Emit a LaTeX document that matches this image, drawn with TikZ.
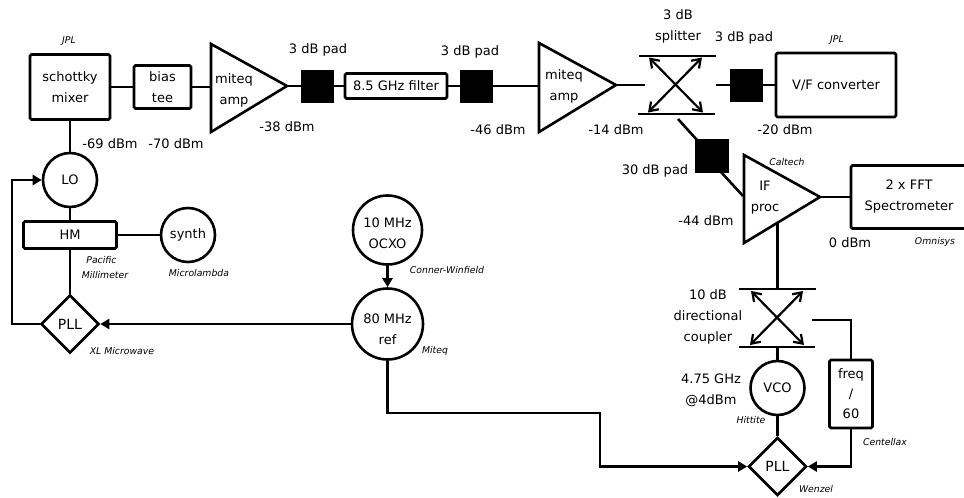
\documentclass[tikz,border=0pt]{standalone}
\usepackage{fontspec}
\setmainfont{DejaVu Sans}
\usepackage{tikz}
\usetikzlibrary{arrows.meta, shapes.geometric, positioning}

\begin{document}
\begin{tikzpicture}[
  x=1pt, y=-1pt,
  wire/.style={line width=2.6pt},
  arr/.style={wire, -{Triangle[length=9pt,width=10pt]}},
  dbl/.style={line width=2.2pt, {Straight Barb[length=8pt,width=11pt]}-{Straight Barb[length=8pt,width=11pt]}},
  box/.style={draw, line width=2.6pt, rounded corners=1.5pt, font=\fontsize{13}{16}\selectfont, align=center, inner sep=0pt},
  pad/.style={draw, fill=black, minimum size=32pt, inner sep=0pt},
  amp/.style={draw, line width=2.6pt, line join=miter},
  circ/.style={draw, circle, line width=2.6pt, inner sep=0pt, font=\fontsize{13}{19}\selectfont, align=center},
  pll/.style={draw, diamond, line width=2.6pt, inner sep=0pt, minimum size=58pt, font=\fontsize{14}{16}\selectfont},
  lab/.style={font=\fontsize{13}{21}\selectfont, align=center, inner sep=0pt},
  maker/.style={font=\itshape\fontsize{9.3}{15}\selectfont, align=center, inner sep=0pt}
]
  \useasboundingbox (0,0) rectangle (964,498);

  % front end
  \node[box, minimum width=80pt, minimum height=65pt] (mixer) at (70,87) {schottky\\[5pt]mixer};
  \node[box, minimum width=57pt, minimum height=43pt] (tee) at (162.5,87) {bias\\[5pt]tee};
  \coordinate (ampa1) at (211,44);
  \coordinate (ampa2) at (211,132);
  \coordinate (ampa3) at (287,86);
  \draw[amp] (ampa1) -- (ampa3) -- (ampa2) -- cycle;
  \node[lab] (ampatxt) at (234,90) {miteq\\amp};
  \node[pad] (pada) at (317,86) {};
  \node[box, minimum width=102pt, minimum height=25pt] (filter) at (396,86) {8.5 GHz filter};
  \node[pad] (padb) at (476,86) {};
  \coordinate (ampb1) at (539,43);
  \coordinate (ampb2) at (539,132);
  \coordinate (ampb3) at (616,85);
  \draw[amp] (ampb1) -- (ampb3) -- (ampb2) -- cycle;
  \node[lab] (ampbtxt) at (564,86) {miteq\\amp};

  % splitter
  \coordinate (spa) at (639,56);
  \coordinate (spb) at (716,56);
  \coordinate (spc) at (638,114);
  \coordinate (spd) at (715,114);
  \draw[wire] (spa) -- (spb);
  \draw[wire] (spc) -- (spd);
  \coordinate (spin) at (645,85);
  \coordinate (spout) at (716,85);
  \coordinate (spdown) at (678,119);
  \draw[dbl] (649,57.5) -- (703,112.5);
  \draw[dbl] (702,57.5) -- (648,112.5);

  \node[pad] (padc) at (746,85) {};
  \node[box, minimum width=120pt, minimum height=64pt] (vf) at (836,85) {V/F converter};
  \node[pad, minimum size=33pt] (padd) at (712,156) {};
  \coordinate (ifa) at (744,155);
  \coordinate (ifb) at (744,243);
  \coordinate (ifc) at (820,197);
  \draw[amp] (ifa) -- (ifc) -- (ifb) -- cycle;
  \node[lab] (iftxt) at (765,198) {IF\\proc};
  \node[box, minimum width=116pt, minimum height=63pt] (fft) at (909,197) {2 x FFT\\[5pt]Spectrometer};

  \draw[wire] (mixer) -- (tee);
  \draw[wire] (tee) -- (211,87);
  \draw[wire] (ampa3) -- (pada);
  \draw[wire] (pada) -- (filter);
  \draw[wire] (filter) -- (padb);
  \draw[wire] (padb) -- (539,86);
  \draw[wire] (ampb3) -- (spin);
  \draw[wire] (spout) -- (padc);
  \draw[wire] (padc) -- (vf);
  \draw[wire] (spdown) -- (697,140);
  \draw[wire] (721,172) -- (743,196);
  \draw[wire] (ifc) -- (fft);

  % local oscillator chain
  \node[circ, minimum size=54pt] (lo) at (70,180) {LO};
  \node[box, minimum width=93pt, minimum height=27pt] (hm) at (70,235) {HM};
  \node[circ, minimum size=54pt] (synth) at (188,235) {synth};
  \node[pll] (plla) at (70,324) {PLL};
  \coordinate (fb) at (12,324);
  \coordinate (fbtop) at (12,180);
  \draw[wire] (mixer) -- (lo);
  \draw[wire] (lo) -- (hm);
  \draw[wire] (hm) -- (plla);
  \draw[wire] (hm) -- (synth);
  \draw[arr] (plla) -- (fb) -- (fbtop) -- (lo);

  % reference
  \node[circ, minimum size=69pt] (ocxo) at (387.5,230) {};
  \node[lab] (ocxotxt) at (387.5,233) {10 MHz\\OCXO};
  \node[circ, minimum size=71pt] (ref) at (387.5,324) {};
  \node[lab] (reftxt) at (387.5,329) {80 MHz\\ref};
  \draw[arr] (ocxo) -- (ref);
  \draw[arr] (ref) -- (plla);
  \node[pll] (pllb) at (777.5,466.5) {PLL};
  \coordinate (refa) at (387.5,413);
  \coordinate (refb) at (600,413);
  \coordinate (refc) at (600,466.5);
  \draw[arr] (ref) -- (refa) -- (refb) -- (refc) -- (pllb);

  % coupler
  \coordinate (cpa) at (739,289);
  \coordinate (cpb) at (816,289);
  \coordinate (cpc) at (739,347);
  \coordinate (cpd) at (815,347);
  \draw[wire] (cpa) -- (cpb);
  \draw[wire] (cpc) -- (cpd);
  \draw[dbl] (751,291) -- (804,345);
  \draw[dbl] (803,291) -- (750,345);
  \draw[wire] (777.5,223) -- (777.5,289);
  \node[circ, minimum size=54pt] (vco) at (777.5,388) {VCO};
  \node[box, minimum width=43pt, minimum height=68pt] (freq) at (851,394) {freq\\[4pt]/\\[4pt]60};
  \coordinate (cpout) at (812,320);
  \coordinate (cpright) at (851,320);
  \coordinate (freqout) at (851,466.5);
  \draw[wire] (777.5,347) -- (vco);
  \draw[wire] (vco) -- (pllb);
  \draw[wire] (cpout) -- (cpright) -- (freq);
  \draw[arr] (freq) -- (freqout) -- (pllb);

  % levels
  \node[lab] (lpada) at (318,50) {3 dB pad};
  \node[lab] (lpadb) at (470,52) {3 dB pad};
  \node[lab] (lpadc) at (744,38) {3 dB pad};
  \node[lab] (lsplit) at (678,26) {3 dB\\splitter};
  \node[lab] (lpadd) at (655,171) {30 dB pad};
  \node[lab] (l69) at (110,144) {-69 dBm};
  \node[lab] (l70) at (176,144) {-70 dBm};
  \node[lab] (l38) at (287,127) {-38 dBm};
  \node[lab] (l46) at (498,130) {-46 dBm};
  \node[lab] (l14) at (616,130) {-14 dBm};
  \node[lab] (l20) at (785,130) {-20 dBm};
  \node[lab] (l44) at (706,221) {-44 dBm};
  \node[lab] (l0) at (850,243) {0 dBm};
  \node[lab] (lcoupler) at (708,317) {10 dB\\directional\\coupler};
  \node[lab] (lvco) at (711,390) {4.75 GHz\\@4dBm};

  % vendors
  \node[maker] (vmixer) at (69,41) {JPL};
  \node[maker] (vvf) at (837,40) {JPL};
  \node[maker] (vif) at (787,162) {Caltech};
  \node[maker] (vfft) at (935,242) {Omnisys};
  \node[maker] (vhm) at (105,268) {\hspace*{-7pt}Pacific\\Millimeter};
  \node[maker] (vsynth) at (199,273) {Microlambda};
  \node[maker] (vocxo) at (447,270) {Conner-Winfield};
  \node[maker] (vref) at (435,351) {Miteq};
  \node[maker] (vpll) at (122,351) {XL Microwave};
  \node[maker] (vvco) at (751,420) {Hittite};
  \node[maker] (vfreq) at (885,442) {Centellax};
  \node[maker] (vpllb) at (816,489) {Wenzel};
\end{tikzpicture}
\end{document}
